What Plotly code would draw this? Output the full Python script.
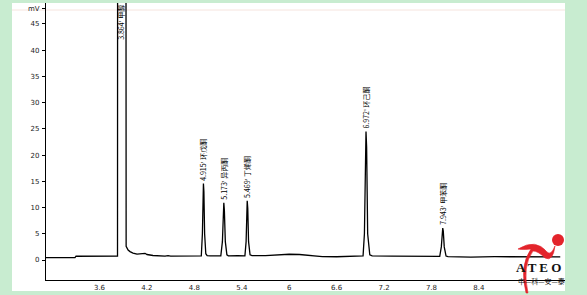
import plotly.graph_objects as go

# ---------------- data ----------------
# chromatogram trace vertices: retention time (min) and signal (mV)
time_min = [
    2.923, 3.290, 3.303, 3.822,
    3.828, 3.829, 3.935, 3.937, 3.948, 3.962, 3.986, 4.024, 4.075, 4.151, 4.176, 4.201, 4.277, 4.429, 4.467, 4.500, 4.860,
    4.888, 4.902, 4.911, 4.915, 4.921, 4.930, 4.945, 4.962, 5.000, 5.120,
    5.135, 5.155, 5.167, 5.173, 5.180, 5.192, 5.212, 5.230, 5.350, 5.440,
    5.455, 5.464, 5.469, 5.476, 5.486, 5.505, 5.530, 5.700, 5.870, 6.000, 6.130, 6.250, 6.420, 6.600, 6.800, 6.935,
    6.952, 6.965, 6.972, 6.980, 6.993, 7.020, 7.050, 7.300, 7.600, 7.905,
    7.925, 7.937, 7.943, 7.950, 7.962, 7.985, 8.010, 8.150, 8.300, 8.600, 9.000, 9.430,
]
signal_mv = [
    0.44, 0.44, 0.72, 0.76,
    0.76, 60.0, 60.0, 2.6, 2.3, 1.9, 1.6, 1.33, 1.14, 1.18, 1.28, 1.05, 0.86, 0.76, 0.84, 0.76, 0.76,
    0.78, 5.0, 13.0, 14.6, 13.0, 5.0, 1.2, 0.82, 0.8, 0.8,
    0.8, 3.5, 9.5, 10.9, 9.5, 3.5, 1.0, 0.8, 0.82, 0.8,
    3.5, 9.8, 11.3, 9.8, 3.5, 1.0, 0.82, 0.82, 1.0, 1.1, 1.05, 0.85, 0.66, 0.62, 0.75, 0.8,
    5.0, 21.5, 24.5, 21.5, 5.0, 1.0, 0.78, 0.76, 0.74, 0.7,
    2.5, 5.5, 6.1, 5.5, 2.5, 0.75, 0.64, 0.6, 0.55, 0.63, 0.6, 0.6,
]

peak_times = [3.864, 4.915, 5.173, 5.469, 6.972, 7.943]
peak_heights = [49.0, 14.6, 10.9, 11.3, 24.5, 6.1]
peak_names = ["甲醇", "环戊酮", "异丙酮", "丁烯酮", "环己酮", "甲苯酮"]

x_tick_vals = [3.6, 4.2, 4.8, 5.4, 6.0, 6.6, 7.2, 7.8, 8.4]
x_tick_text = ["3.6", "4.2", "4.8", "5.4", "6", "6.6", "7.2", "7.8", "8.4"]
y_tick_vals = [0, 5, 10, 15, 20, 25, 30, 35, 40, 45, 48]
y_tick_text = ["0", "5", "10", "15", "20", "25", "30", "35", "40", "45", "mV"]

# ---------------- layout geometry ----------------
W, H = 587, 295
ML, MR, MT, MB = 46, 22, 3, 15
PW, PH = W - ML - MR, H - MT - MB


def px(xp):
    return (xp - ML) / PW


def py(yp):
    return (H - MB - yp) / PH


fig = go.Figure()
fig.add_trace(go.Scatter(
    x=time_min, y=signal_mv, mode="lines",
    line=dict(color="#000000", width=1.3),
    hoverinfo="skip", showlegend=False,
))

annotations = []
for i, (t, h, n) in enumerate(zip(peak_times, peak_heights, peak_names)):
    label = f"{t:.3f}' {n}"
    if i == 0:
        annotations.append(dict(x=t, y=h, xref="x", yref="y", text=label, textangle=-90,
                                showarrow=False, yanchor="top", xanchor="center",
                                font=dict(size=7, color="#000", family="Noto Sans CJK SC")))
    else:
        annotations.append(dict(x=t, y=h, xref="x", yref="y", text=label, textangle=-90,
                                showarrow=False, yanchor="bottom", xanchor="center", yshift=1,
                                font=dict(size=7, color="#000", family="Noto Sans CJK SC")))

shapes = [
    # white panel on green page
    dict(type="rect", xref="paper", yref="paper", x0=px(12), x1=px(565), y0=py(291), y1=py(3),
         fillcolor="#ffffff", line=dict(width=0), layer="below"),
    # faint pink top line
    dict(type="line", xref="paper", yref="paper", x0=px(12), x1=px(565), y0=py(10), y1=py(10),
         line=dict(color="#f6e4de", width=1), layer="below"),
]
# logo: red swoosh (path in paper coords)
p = lambda a, b: f"{px(a):.4f},{py(b):.4f}"
shapes.append(dict(type="path", xref="paper", yref="paper",
                   path=f"M{p(526,293)} Q{p(519,266)} {p(531,249)} Q{p(522,250)} {p(518,249)} "
                        f"Q{p(536,238)} {p(547,252)} Q{p(551,256)} {p(555,246)} "
                        f"Q{p(553,262)} {p(545,258)} Q{p(538,251)} {p(533,251)} "
                        f"Q{p(522,266)} {p(528,293)} Z",
                   fillcolor="#e3242b", line=dict(color="#e3242b", width=0.6)))
# logo: red ball
shapes.append(dict(type="circle", xref="paper", yref="paper", x0=px(552), x1=px(564), y0=py(246), y1=py(234),
                   fillcolor="#e3242b", line=dict(width=0)))

# logo text
annotations.append(dict(x=px(538), y=py(267), xref="paper", yref="paper", text="<b>A T E O</b>",
                        xanchor="center", yanchor="middle",
                        showarrow=False, font=dict(size=13, color="#111", family="Liberation Serif")))
annotations.append(dict(x=px(541), y=py(281), xref="paper", yref="paper", text="中—科—安—泰",
                        xanchor="center", yanchor="middle",
                        showarrow=False, font=dict(size=7, color="#111", family="Noto Sans CJK SC")))

fig.update_layout(
    width=W, height=H,
    margin=dict(l=ML, r=MR, t=MT, b=MB, pad=0),
    paper_bgcolor="#c8ecd0",
    plot_bgcolor="rgba(0,0,0,0)",
    showlegend=False,
    annotations=annotations,
    shapes=shapes,
    xaxis=dict(range=[2.923, 9.49], showgrid=False, zeroline=False, showline=True,
               linecolor="#000", linewidth=1.2, ticks="", tickvals=x_tick_vals, ticktext=x_tick_text,
               tickfont=dict(size=7, color="#222", family="DejaVu Sans"), ticklabelstandoff=0),
    yaxis=dict(range=[-3.81, 49.0], showgrid=False, zeroline=False, showline=True,
               linecolor="#000", linewidth=1.2, ticks="outside", ticklen=3, tickcolor="#000",
               tickvals=y_tick_vals, ticktext=y_tick_text,
               tickfont=dict(size=7, color="#222", family="DejaVu Sans"), ticklabelstandoff=1),
)

fig.write_html("out.html")
